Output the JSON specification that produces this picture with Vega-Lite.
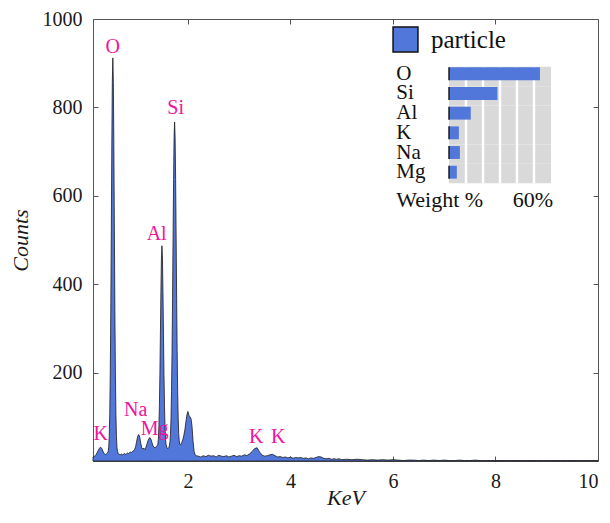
{
  "$schema": "https://vega.github.io/schema/vega-lite/v6.json",
  "width": 505,
  "height": 442,
  "autosize": {"type": "none"},
  "padding": {"left": 93, "top": 19, "right": 12, "bottom": 62},
  "background": "white",
  "config": {"view": {"stroke": null}, "font": "Liberation Serif",
    "axis": {"labelFont": "Liberation Serif", "titleFont": "Liberation Serif"},
    "legend": {"labelFont": "Liberation Serif"},
    "text": {"font": "Liberation Serif"}},
  "datasets": {
    "spectrum": [
      {"e":0.148,"c":9},{"e":0.17,"c":10},{"e":0.19,"c":12},{"e":0.21,"c":15},{"e":0.23,"c":19},{"e":0.25,"c":24},{"e":0.27,"c":28},{"e":0.29,"c":31},{"e":0.31,"c":30},{"e":0.33,"c":26},{"e":0.35,"c":20},{"e":0.37,"c":16},{"e":0.39,"c":15},{"e":0.41,"c":16},{"e":0.43,"c":18},
      {"e":0.445,"c":22},{"e":0.455,"c":32},{"e":0.465,"c":56},{"e":0.475,"c":107},{"e":0.485,"c":199},{"e":0.495,"c":339},{"e":0.505,"c":521},{"e":0.515,"c":711},{"e":0.525,"c":857},{"e":0.535,"c":912},{"e":0.545,"c":857},{"e":0.555,"c":711},{"e":0.565,"c":521},{"e":0.575,"c":339},{"e":0.585,"c":199},{"e":0.595,"c":107},{"e":0.605,"c":56},{"e":0.615,"c":32},{"e":0.625,"c":22},
      {"e":0.64,"c":17},{"e":0.66,"c":15},{"e":0.68,"c":14},{"e":0.70,"c":16},{"e":0.72,"c":14},{"e":0.74,"c":15},{"e":0.76,"c":17},{"e":0.78,"c":15},{"e":0.80,"c":16},{"e":0.82,"c":18},{"e":0.84,"c":17},{"e":0.86,"c":19},{"e":0.88,"c":20},{"e":0.90,"c":19},{"e":0.92,"c":22},{"e":0.94,"c":23},{"e":0.96,"c":26},{"e":0.98,"c":33},
      {"e":1.00,"c":45},{"e":1.02,"c":56},{"e":1.04,"c":60},{"e":1.06,"c":54},{"e":1.08,"c":40},{"e":1.10,"c":30},{"e":1.12,"c":27},{"e":1.14,"c":29},{"e":1.16,"c":26},{"e":1.18,"c":31},{"e":1.20,"c":38},{"e":1.22,"c":46},{"e":1.24,"c":51},{"e":1.26,"c":53},{"e":1.28,"c":49},{"e":1.30,"c":41},{"e":1.32,"c":34},{"e":1.34,"c":31},{"e":1.36,"c":30},{"e":1.38,"c":32},{"e":1.40,"c":35},
      {"e":1.413,"c":38},{"e":1.423,"c":50},{"e":1.433,"c":76},{"e":1.443,"c":123},{"e":1.453,"c":195},{"e":1.463,"c":287},{"e":1.473,"c":384},{"e":1.483,"c":459},{"e":1.493,"c":487},{"e":1.503,"c":459},{"e":1.513,"c":384},{"e":1.523,"c":287},{"e":1.533,"c":195},{"e":1.543,"c":123},{"e":1.553,"c":76},{"e":1.563,"c":50},{"e":1.573,"c":38},{"e":1.59,"c":30},{"e":1.61,"c":28},{"e":1.63,"c":31},
      {"e":1.64,"c":36},{"e":1.65,"c":44},{"e":1.66,"c":62},{"e":1.67,"c":97},{"e":1.68,"c":157},{"e":1.69,"c":247},{"e":1.70,"c":368},{"e":1.71,"c":505},{"e":1.72,"c":637},{"e":1.73,"c":732},{"e":1.74,"c":767},{"e":1.75,"c":732},{"e":1.76,"c":637},{"e":1.77,"c":505},{"e":1.78,"c":368},{"e":1.79,"c":247},{"e":1.80,"c":157},{"e":1.81,"c":97},{"e":1.82,"c":62},{"e":1.83,"c":46},{"e":1.84,"c":38},
      {"e":1.86,"c":37},{"e":1.88,"c":42},{"e":1.90,"c":48},{"e":1.92,"c":58},{"e":1.94,"c":70},{"e":1.96,"c":88},{"e":1.98,"c":104},{"e":2.00,"c":112},{"e":2.02,"c":103},{"e":2.04,"c":100},{"e":2.06,"c":96},{"e":2.08,"c":78},{"e":2.10,"c":45},{"e":2.12,"c":22},{"e":2.14,"c":14},{"e":2.16,"c":12},
      {"e":2.20,"c":11},{"e":2.25,"c":9},{"e":2.30,"c":12},{"e":2.35,"c":10},{"e":2.40,"c":13},{"e":2.45,"c":11},{"e":2.50,"c":12},{"e":2.55,"c":9},{"e":2.60,"c":13},{"e":2.65,"c":11},{"e":2.70,"c":10},{"e":2.75,"c":12},{"e":2.80,"c":9},{"e":2.85,"c":11},{"e":2.90,"c":13},{"e":2.95,"c":10},{"e":3.00,"c":12},{"e":3.05,"c":11},{"e":3.10,"c":14},{"e":3.15,"c":12},{"e":3.20,"c":16},{"e":3.25,"c":21},{"e":3.30,"c":28},{"e":3.35,"c":30},{"e":3.40,"c":20},{"e":3.45,"c":13},{"e":3.50,"c":11},{"e":3.55,"c":12},{"e":3.60,"c":14},{"e":3.65,"c":15},{"e":3.70,"c":12},{"e":3.75,"c":9},{"e":3.80,"c":10},{"e":3.85,"c":8},{"e":3.90,"c":9},{"e":3.95,"c":7},
      {"e":4.00,"c":9},{"e":4.05,"c":6},{"e":4.10,"c":8},{"e":4.15,"c":7},{"e":4.20,"c":8},{"e":4.25,"c":6},{"e":4.30,"c":7},{"e":4.35,"c":5},{"e":4.40,"c":7},{"e":4.45,"c":6},{"e":4.50,"c":8},{"e":4.55,"c":10},{"e":4.60,"c":9},{"e":4.65,"c":6},{"e":4.70,"c":5},{"e":4.75,"c":6},{"e":4.80,"c":4},{"e":4.85,"c":5},{"e":4.90,"c":4},{"e":4.95,"c":5},
      {"e":5.0,"c":3},{"e":5.1,"c":4},{"e":5.2,"c":3},{"e":5.3,"c":4},{"e":5.4,"c":3},{"e":5.5,"c":2},{"e":5.6,"c":3},{"e":5.7,"c":2},{"e":5.8,"c":3},{"e":5.9,"c":2},{"e":6.0,"c":3},{"e":6.1,"c":2},{"e":6.2,"c":1},{"e":6.3,"c":2},{"e":6.4,"c":2},{"e":6.5,"c":1},{"e":6.6,"c":2},{"e":6.7,"c":1},{"e":6.8,"c":2},{"e":6.9,"c":1},{"e":7.0,"c":2},{"e":7.1,"c":1},{"e":7.2,"c":1},{"e":7.3,"c":2},{"e":7.4,"c":1},{"e":7.5,"c":1},{"e":7.6,"c":2},{"e":7.7,"c":1},{"e":7.8,"c":1},{"e":7.9,"c":1},{"e":8.0,"c":1},{"e":8.2,"c":1},{"e":8.4,"c":1},{"e":8.6,"c":1},{"e":8.8,"c":1},{"e":9.0,"c":1},{"e":9.2,"c":1},{"e":9.4,"c":1},{"e":9.6,"c":1},{"e":9.8,"c":1},{"e":10.0,"c":1}
    ],
    "labels": [
      {"t":"O","e":0.532,"c":937},
      {"t":"Si","e":1.76,"c":799},
      {"t":"Al","e":1.39,"c":514},
      {"t":"Na","e":0.98,"c":116},
      {"t":"Mg","e":1.35,"c":73},
      {"t":"K","e":0.30,"c":62},
      {"t":"K","e":3.33,"c":55},
      {"t":"K","e":3.76,"c":55}
    ],
    "inset": [
      {"el":"O","w":53.5,"s":"particle"},
      {"el":"Si","w":28.5,"s":"particle"},
      {"el":"Al","w":12.8,"s":"particle"},
      {"el":"K","w":5.8,"s":"particle"},
      {"el":"Na","w":6.4,"s":"particle"},
      {"el":"Mg","w":4.6,"s":"particle"}
    ],
    "grid": [{"g":10},{"g":20},{"g":30},{"g":40},{"g":50}]
  },
  "layer": [
    {
      "data": {"name": "spectrum"},
      "mark": {"type": "area", "color": "#5277DB", "stroke": "#1a1a1a", "strokeWidth": 0.8, "strokeJoin": "round"},
      "encoding": {
        "x": {"field": "e", "type": "quantitative",
          "scale": {"domain": [0.148, 10], "nice": false, "zero": false},
          "axis": {"orient": "bottom", "values": [2,4,6,8,10], "format": "d", "tickSize": -5, "tickColor": "#555", "domainColor": "#555", "grid": false,
            "labelFont": "Liberation Serif", "labelFontSize": 20, "labelColor": "#1a1a1a", "labelPadding": 15,
            "title": "KeV", "titleFont": "Liberation Serif", "titleFontStyle": "italic", "titleFontWeight": "normal", "titleFontSize": 22, "titleColor": "#1a1a1a", "titlePadding": -4}},
        "y": {"field": "c", "type": "quantitative",
          "scale": {"domain": [0, 1000], "nice": false},
          "axis": {"orient": "left", "values": [200,400,600,800,1000], "format": "d", "tickSize": -5, "tickColor": "#555", "domainColor": "#555", "grid": false,
            "labelFont": "Liberation Serif", "labelFontSize": 20, "labelColor": "#1a1a1a", "labelPadding": 16,
            "title": "Counts", "titleFont": "Liberation Serif", "titleFontStyle": "italic", "titleFontWeight": "normal", "titleFontSize": 22, "titleColor": "#1a1a1a", "titlePadding": 10}}
      }
    },
    {
      "data": {"name": "labels"},
      "mark": {"type": "text", "font": "Liberation Serif", "fontSize": 20, "color": "#F0139B", "align": "center", "baseline": "middle"},
      "encoding": {
        "x": {"field": "e", "type": "quantitative",
          "scale": {"domain": [0.148, 10], "nice": false, "zero": false},
          "axis": {"orient": "top", "values": [2,4,6,8,10], "tickSize": -5, "tickColor": "#555", "domainColor": "#555", "grid": false, "labels": false, "title": null}},
        "y": {"field": "c", "type": "quantitative",
          "scale": {"domain": [0, 1000], "nice": false},
          "axis": {"orient": "right", "values": [200,400,600,800,1000], "tickSize": -5, "tickColor": "#555", "domainColor": "#555", "grid": false, "labels": false, "title": null}},
        "text": {"field": "t"}
      }
    },
    {
      "data": {"name": "inset"},
      "mark": {"type": "bar", "color": "#d9d9d9"},
      "encoding": {
        "x": {"datum": 0, "type": "quantitative", "scale": {"domain": [0, 60], "range": [356, 458], "nice": false}, "axis": null},
        "x2": {"datum": 60},
        "y": {"field": "el", "type": "nominal", "scale": {"domain": ["O","Si","Al","K","Na","Mg"], "range": [47.7, 164.3], "paddingInner": 0, "paddingOuter": 0}, "axis": null}
      }
    },
    {
      "data": {"name": "grid"},
      "mark": {"type": "rule", "color": "white", "strokeWidth": 2.5},
      "encoding": {
        "x": {"field": "g", "type": "quantitative", "scale": {"domain": [0, 60], "range": [356, 458], "nice": false}, "axis": null},
        "y": {"datum": 0, "type": "quantitative", "scale": {"domain": [0, 1], "range": [47.7, 164.3], "nice": false}, "axis": null},
        "y2": {"datum": 1}
      }
    },
    {
      "data": {"name": "inset"},
      "encoding": {
        "y": {"field": "el", "type": "nominal", "scale": {"domain": ["O","Si","Al","K","Na","Mg"], "range": [45, 163], "paddingInner": 0.345, "paddingOuter": 0.17}, "axis": null}
      },
      "layer": [
        {
          "mark": {"type": "bar"},
          "encoding": {
            "x": {"field": "w", "type": "quantitative", "scale": {"domain": [0, 60], "range": [356, 458], "nice": false}, "axis": null},
            "color": {"field": "s", "type": "nominal", "scale": {"range": ["#5277DB"]},
              "legend": {"title": null, "orient": "none", "legendX": 299, "legendY": 7, "symbolType": "square", "symbolSize": 620,
                "labelFont": "Liberation Serif", "labelFontSize": 25, "labelColor": "#111", "labelOffset": 12, "padding": 0,
                "symbolStrokeColor": "#111", "symbolStrokeWidth": 1.5,
                "encode": {"symbols": {"update": {"stroke": {"value": "#111"}, "strokeWidth": {"value": 1.5}}}}}}
          }
        },
        {
          "mark": {"type": "tick", "color": "#111", "thickness": 2, "size": 13},
          "encoding": {"x": {"datum": 0, "type": "quantitative"}}
        },
        {
          "mark": {"type": "text", "font": "Liberation Serif", "fontSize": 21, "color": "#111", "align": "left", "baseline": "middle"},
          "encoding": {"x": {"datum": -31, "type": "quantitative"}, "text": {"field": "el"}}
        }
      ]
    },
    {
      "layer": [
        {
          "data": {"values": [{"t": "Weight %"}]},
          "mark": {"type": "text", "font": "Liberation Serif", "fontSize": 22, "color": "#111", "align": "left", "baseline": "alphabetic"},
          "encoding": {
            "x": {"datum": -31, "type": "quantitative", "scale": {"domain": [0, 60], "range": [356, 458], "nice": false}, "axis": null},
            "y": {"datum": 1.2, "type": "quantitative", "scale": {"domain": [0, 1], "range": [47.7, 164.3], "nice": false}, "axis": null},
            "text": {"field": "t"}
          }
        },
        {
          "data": {"values": [{"t": "60%"}]},
          "mark": {"type": "text", "font": "Liberation Serif", "fontSize": 22, "color": "#111", "align": "right", "baseline": "alphabetic", "dx": 2},
          "encoding": {
            "x": {"datum": 60, "type": "quantitative"},
            "y": {"datum": 1.2, "type": "quantitative"},
            "text": {"field": "t"}
          }
        }
      ]
    }
  ],
  "resolve": {"scale": {"x": "independent", "y": "independent", "color": "independent"}, "axis": {"x": "independent", "y": "independent"}}
}
